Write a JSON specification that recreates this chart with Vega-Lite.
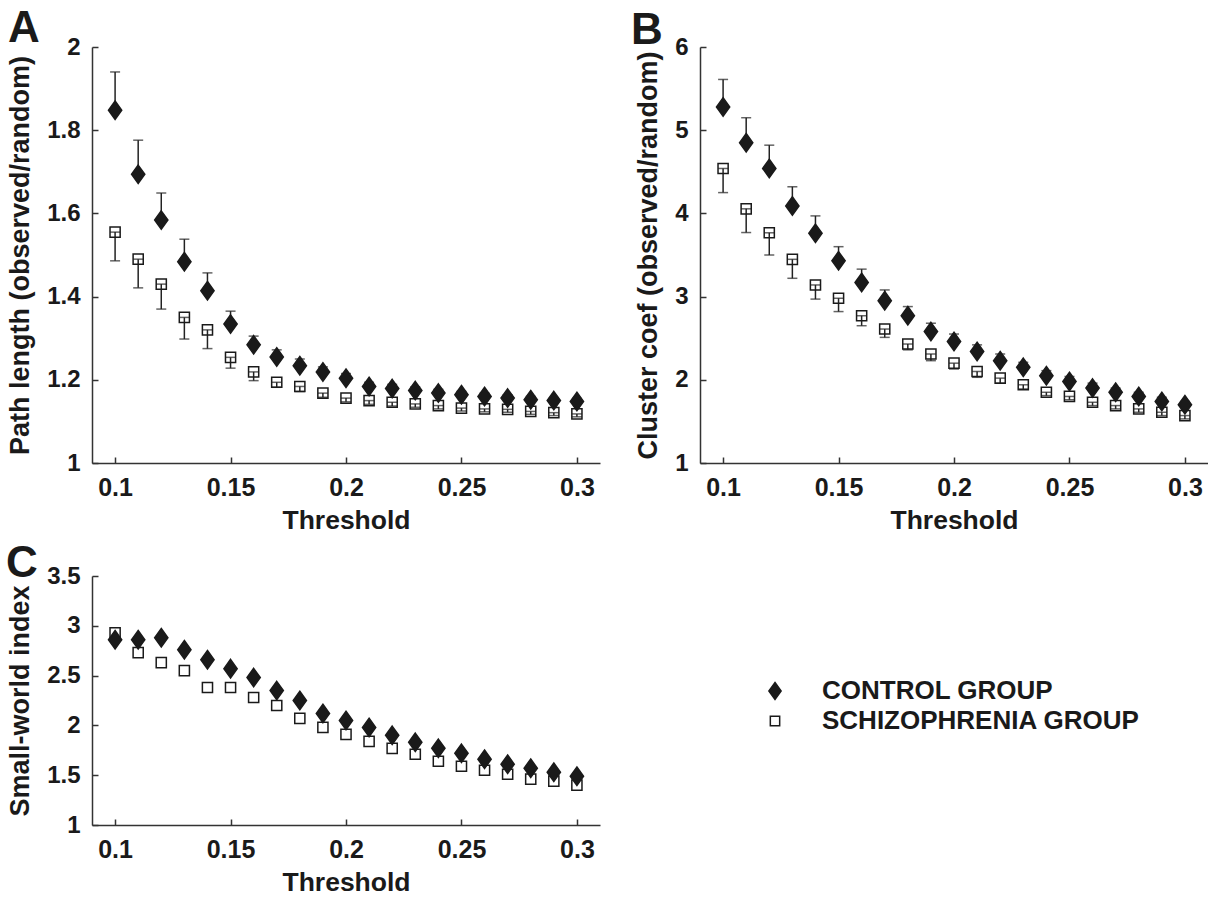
{
  "$schema": "https://vega.github.io/schema/vega-lite/v6.json",
  "autosize": {"type": "pad"},
  "padding": {"left": 6, "top": 7, "right": 0, "bottom": 0},
  "background": "white",
  "config": {
    "view": {"stroke": null},
    "font": "Liberation Sans",
    "axis": {
      "grid": false,
      "labelFont": "Liberation Sans",
      "labelFontWeight": "bold",
      "labelFontSize": 24,
      "labelColor": "#1a1a1a",
      "titleFont": "Liberation Sans",
      "titleFontWeight": "bold",
      "titleColor": "#1a1a1a",
      "domainColor": "#333333",
      "domainWidth": 1.5,
      "tickColor": "#333333",
      "tickWidth": 1.5,
      "tickSize": -6
    },
    "axisY": {"titlePadding": 12, "titleFontSize": 27, "labelPadding": 18},
    "axisX": {"titlePadding": 7, "titleFontSize": 26.5, "labelPadding": 18, "labelFontSize": 25},
    "legend": {
      "labelFont": "Liberation Sans",
      "labelFontSize": 26,
      "labelFontWeight": "bold",
      "labelColor": "#1a1a1a",
      "labelLimit": 0,
      "symbolSize": 289,
      "symbolStrokeColor": "#1a1a1a",
      "symbolStrokeWidth": 1.5,
      "rowPadding": 4,
      "labelOffset": 34
    },
    "title": {"font": "Liberation Sans", "fontSize": 44, "fontWeight": "bold", "color": "#1a1a1a", "anchor": "start", "baseline": "alphabetic", "frame": "group"}
  },
  "datasets": {
    "path": [
      {"t": 0.10, "group": "SCHIZOPHRENIA GROUP", "mean": 1.555, "bar": 1.486},
      {"t": 0.11, "group": "SCHIZOPHRENIA GROUP", "mean": 1.490, "bar": 1.421},
      {"t": 0.12, "group": "SCHIZOPHRENIA GROUP", "mean": 1.430, "bar": 1.370},
      {"t": 0.13, "group": "SCHIZOPHRENIA GROUP", "mean": 1.350, "bar": 1.298},
      {"t": 0.14, "group": "SCHIZOPHRENIA GROUP", "mean": 1.320, "bar": 1.275},
      {"t": 0.15, "group": "SCHIZOPHRENIA GROUP", "mean": 1.254, "bar": 1.228},
      {"t": 0.16, "group": "SCHIZOPHRENIA GROUP", "mean": 1.219, "bar": 1.198},
      {"t": 0.17, "group": "SCHIZOPHRENIA GROUP", "mean": 1.194, "bar": 1.182},
      {"t": 0.18, "group": "SCHIZOPHRENIA GROUP", "mean": 1.184, "bar": 1.172},
      {"t": 0.19, "group": "SCHIZOPHRENIA GROUP", "mean": 1.168, "bar": 1.158},
      {"t": 0.20, "group": "SCHIZOPHRENIA GROUP", "mean": 1.156, "bar": 1.147},
      {"t": 0.21, "group": "SCHIZOPHRENIA GROUP", "mean": 1.150, "bar": 1.141},
      {"t": 0.22, "group": "SCHIZOPHRENIA GROUP", "mean": 1.146, "bar": 1.137},
      {"t": 0.23, "group": "SCHIZOPHRENIA GROUP", "mean": 1.142, "bar": 1.134},
      {"t": 0.24, "group": "SCHIZOPHRENIA GROUP", "mean": 1.138, "bar": 1.130},
      {"t": 0.25, "group": "SCHIZOPHRENIA GROUP", "mean": 1.132, "bar": 1.125},
      {"t": 0.26, "group": "SCHIZOPHRENIA GROUP", "mean": 1.130, "bar": 1.123},
      {"t": 0.27, "group": "SCHIZOPHRENIA GROUP", "mean": 1.129, "bar": 1.122},
      {"t": 0.28, "group": "SCHIZOPHRENIA GROUP", "mean": 1.124, "bar": 1.117},
      {"t": 0.29, "group": "SCHIZOPHRENIA GROUP", "mean": 1.121, "bar": 1.114},
      {"t": 0.30, "group": "SCHIZOPHRENIA GROUP", "mean": 1.118, "bar": 1.111},
      {"t": 0.10, "group": "CONTROL GROUP", "mean": 1.848, "bar": 1.940},
      {"t": 0.11, "group": "CONTROL GROUP", "mean": 1.694, "bar": 1.776},
      {"t": 0.12, "group": "CONTROL GROUP", "mean": 1.584, "bar": 1.649},
      {"t": 0.13, "group": "CONTROL GROUP", "mean": 1.484, "bar": 1.538},
      {"t": 0.14, "group": "CONTROL GROUP", "mean": 1.414, "bar": 1.457},
      {"t": 0.15, "group": "CONTROL GROUP", "mean": 1.334, "bar": 1.365},
      {"t": 0.16, "group": "CONTROL GROUP", "mean": 1.284, "bar": 1.305},
      {"t": 0.17, "group": "CONTROL GROUP", "mean": 1.255, "bar": 1.272},
      {"t": 0.18, "group": "CONTROL GROUP", "mean": 1.234, "bar": 1.250},
      {"t": 0.19, "group": "CONTROL GROUP", "mean": 1.219, "bar": 1.231},
      {"t": 0.20, "group": "CONTROL GROUP", "mean": 1.204, "bar": 1.215},
      {"t": 0.21, "group": "CONTROL GROUP", "mean": 1.184, "bar": 1.194},
      {"t": 0.22, "group": "CONTROL GROUP", "mean": 1.179, "bar": 1.189},
      {"t": 0.23, "group": "CONTROL GROUP", "mean": 1.174, "bar": 1.183},
      {"t": 0.24, "group": "CONTROL GROUP", "mean": 1.168, "bar": 1.177},
      {"t": 0.25, "group": "CONTROL GROUP", "mean": 1.164, "bar": 1.172},
      {"t": 0.26, "group": "CONTROL GROUP", "mean": 1.160, "bar": 1.168},
      {"t": 0.27, "group": "CONTROL GROUP", "mean": 1.156, "bar": 1.164},
      {"t": 0.28, "group": "CONTROL GROUP", "mean": 1.152, "bar": 1.160},
      {"t": 0.29, "group": "CONTROL GROUP", "mean": 1.150, "bar": 1.157},
      {"t": 0.30, "group": "CONTROL GROUP", "mean": 1.148, "bar": 1.155}
    ],
    "clust": [
      {"t": 0.10, "group": "SCHIZOPHRENIA GROUP", "mean": 4.54, "bar": 4.25},
      {"t": 0.11, "group": "SCHIZOPHRENIA GROUP", "mean": 4.055, "bar": 3.77},
      {"t": 0.12, "group": "SCHIZOPHRENIA GROUP", "mean": 3.767, "bar": 3.50},
      {"t": 0.13, "group": "SCHIZOPHRENIA GROUP", "mean": 3.448, "bar": 3.22},
      {"t": 0.14, "group": "SCHIZOPHRENIA GROUP", "mean": 3.14, "bar": 2.97},
      {"t": 0.15, "group": "SCHIZOPHRENIA GROUP", "mean": 2.98, "bar": 2.82},
      {"t": 0.16, "group": "SCHIZOPHRENIA GROUP", "mean": 2.77, "bar": 2.65},
      {"t": 0.17, "group": "SCHIZOPHRENIA GROUP", "mean": 2.61, "bar": 2.51},
      {"t": 0.18, "group": "SCHIZOPHRENIA GROUP", "mean": 2.43, "bar": 2.36},
      {"t": 0.19, "group": "SCHIZOPHRENIA GROUP", "mean": 2.31, "bar": 2.23},
      {"t": 0.20, "group": "SCHIZOPHRENIA GROUP", "mean": 2.20, "bar": 2.13},
      {"t": 0.21, "group": "SCHIZOPHRENIA GROUP", "mean": 2.10, "bar": 2.03},
      {"t": 0.22, "group": "SCHIZOPHRENIA GROUP", "mean": 2.02, "bar": 1.96},
      {"t": 0.23, "group": "SCHIZOPHRENIA GROUP", "mean": 1.94, "bar": 1.89},
      {"t": 0.24, "group": "SCHIZOPHRENIA GROUP", "mean": 1.85, "bar": 1.81},
      {"t": 0.25, "group": "SCHIZOPHRENIA GROUP", "mean": 1.80, "bar": 1.76},
      {"t": 0.26, "group": "SCHIZOPHRENIA GROUP", "mean": 1.73, "bar": 1.69},
      {"t": 0.27, "group": "SCHIZOPHRENIA GROUP", "mean": 1.69, "bar": 1.65},
      {"t": 0.28, "group": "SCHIZOPHRENIA GROUP", "mean": 1.65, "bar": 1.61},
      {"t": 0.29, "group": "SCHIZOPHRENIA GROUP", "mean": 1.61, "bar": 1.57},
      {"t": 0.30, "group": "SCHIZOPHRENIA GROUP", "mean": 1.57, "bar": 1.53},
      {"t": 0.10, "group": "CONTROL GROUP", "mean": 5.28, "bar": 5.61},
      {"t": 0.11, "group": "CONTROL GROUP", "mean": 4.85, "bar": 5.15},
      {"t": 0.12, "group": "CONTROL GROUP", "mean": 4.54, "bar": 4.82},
      {"t": 0.13, "group": "CONTROL GROUP", "mean": 4.09, "bar": 4.32},
      {"t": 0.14, "group": "CONTROL GROUP", "mean": 3.76, "bar": 3.97},
      {"t": 0.15, "group": "CONTROL GROUP", "mean": 3.43, "bar": 3.60},
      {"t": 0.16, "group": "CONTROL GROUP", "mean": 3.17, "bar": 3.33},
      {"t": 0.17, "group": "CONTROL GROUP", "mean": 2.95, "bar": 3.08},
      {"t": 0.18, "group": "CONTROL GROUP", "mean": 2.77, "bar": 2.88},
      {"t": 0.19, "group": "CONTROL GROUP", "mean": 2.58, "bar": 2.68},
      {"t": 0.20, "group": "CONTROL GROUP", "mean": 2.46, "bar": 2.55},
      {"t": 0.21, "group": "CONTROL GROUP", "mean": 2.34, "bar": 2.42},
      {"t": 0.22, "group": "CONTROL GROUP", "mean": 2.23, "bar": 2.31},
      {"t": 0.23, "group": "CONTROL GROUP", "mean": 2.15, "bar": 2.21},
      {"t": 0.24, "group": "CONTROL GROUP", "mean": 2.05, "bar": 2.11},
      {"t": 0.25, "group": "CONTROL GROUP", "mean": 1.98, "bar": 2.04},
      {"t": 0.26, "group": "CONTROL GROUP", "mean": 1.90, "bar": 1.96},
      {"t": 0.27, "group": "CONTROL GROUP", "mean": 1.85, "bar": 1.90},
      {"t": 0.28, "group": "CONTROL GROUP", "mean": 1.80, "bar": 1.85},
      {"t": 0.29, "group": "CONTROL GROUP", "mean": 1.74, "bar": 1.79},
      {"t": 0.30, "group": "CONTROL GROUP", "mean": 1.70, "bar": 1.74}
    ],
    "sw": [
      {"t": 0.10, "group": "SCHIZOPHRENIA GROUP", "mean": 2.93},
      {"t": 0.11, "group": "SCHIZOPHRENIA GROUP", "mean": 2.73},
      {"t": 0.12, "group": "SCHIZOPHRENIA GROUP", "mean": 2.63},
      {"t": 0.13, "group": "SCHIZOPHRENIA GROUP", "mean": 2.55},
      {"t": 0.14, "group": "SCHIZOPHRENIA GROUP", "mean": 2.38},
      {"t": 0.15, "group": "SCHIZOPHRENIA GROUP", "mean": 2.38},
      {"t": 0.16, "group": "SCHIZOPHRENIA GROUP", "mean": 2.28},
      {"t": 0.17, "group": "SCHIZOPHRENIA GROUP", "mean": 2.20},
      {"t": 0.18, "group": "SCHIZOPHRENIA GROUP", "mean": 2.07},
      {"t": 0.19, "group": "SCHIZOPHRENIA GROUP", "mean": 1.98},
      {"t": 0.20, "group": "SCHIZOPHRENIA GROUP", "mean": 1.91},
      {"t": 0.21, "group": "SCHIZOPHRENIA GROUP", "mean": 1.84},
      {"t": 0.22, "group": "SCHIZOPHRENIA GROUP", "mean": 1.77},
      {"t": 0.23, "group": "SCHIZOPHRENIA GROUP", "mean": 1.71},
      {"t": 0.24, "group": "SCHIZOPHRENIA GROUP", "mean": 1.64},
      {"t": 0.25, "group": "SCHIZOPHRENIA GROUP", "mean": 1.59},
      {"t": 0.26, "group": "SCHIZOPHRENIA GROUP", "mean": 1.55},
      {"t": 0.27, "group": "SCHIZOPHRENIA GROUP", "mean": 1.51},
      {"t": 0.28, "group": "SCHIZOPHRENIA GROUP", "mean": 1.46},
      {"t": 0.29, "group": "SCHIZOPHRENIA GROUP", "mean": 1.44},
      {"t": 0.30, "group": "SCHIZOPHRENIA GROUP", "mean": 1.40},
      {"t": 0.10, "group": "CONTROL GROUP", "mean": 2.86},
      {"t": 0.11, "group": "CONTROL GROUP", "mean": 2.86},
      {"t": 0.12, "group": "CONTROL GROUP", "mean": 2.88},
      {"t": 0.13, "group": "CONTROL GROUP", "mean": 2.76},
      {"t": 0.14, "group": "CONTROL GROUP", "mean": 2.66},
      {"t": 0.15, "group": "CONTROL GROUP", "mean": 2.57},
      {"t": 0.16, "group": "CONTROL GROUP", "mean": 2.48},
      {"t": 0.17, "group": "CONTROL GROUP", "mean": 2.35},
      {"t": 0.18, "group": "CONTROL GROUP", "mean": 2.25},
      {"t": 0.19, "group": "CONTROL GROUP", "mean": 2.12},
      {"t": 0.20, "group": "CONTROL GROUP", "mean": 2.05},
      {"t": 0.21, "group": "CONTROL GROUP", "mean": 1.98},
      {"t": 0.22, "group": "CONTROL GROUP", "mean": 1.90},
      {"t": 0.23, "group": "CONTROL GROUP", "mean": 1.83},
      {"t": 0.24, "group": "CONTROL GROUP", "mean": 1.77},
      {"t": 0.25, "group": "CONTROL GROUP", "mean": 1.72},
      {"t": 0.26, "group": "CONTROL GROUP", "mean": 1.66},
      {"t": 0.27, "group": "CONTROL GROUP", "mean": 1.61},
      {"t": 0.28, "group": "CONTROL GROUP", "mean": 1.57},
      {"t": 0.29, "group": "CONTROL GROUP", "mean": 1.53},
      {"t": 0.30, "group": "CONTROL GROUP", "mean": 1.49}
    ]
  },
  "columns": 2,
  "bounds": "flush",
  "spacing": {"row": 113, "column": 100},
  "resolve": {
    "scale": {"shape": "independent", "fill": "independent", "stroke": "independent"},
    "legend": {"shape": "independent", "fill": "independent", "stroke": "independent"}
  },
  "concat": [
    {
      "width": 508,
      "height": 416,
      "title": {"text": "A", "dx": -84, "dy": 20},
      "data": {"name": "path"},
      "layer": [
        {
          "mark": {"type": "rule", "color": "#222222", "strokeWidth": 1.5},
          "encoding": {
            "x": {"field": "t", "type": "quantitative", "title": "Threshold", "scale": {"domain": [0.09, 0.31], "nice": false, "zero": false}, "axis": {"values": [0.1, 0.15, 0.2, 0.25, 0.3], "format": "~g"}},
            "y": {"field": "mean", "type": "quantitative", "title": "Path length (observed/random)", "scale": {"domain": [1, 2], "nice": false, "zero": false}, "axis": {"values": [1, 1.2, 1.4, 1.6, 1.8, 2], "format": "~g"}},
            "y2": {"field": "bar"}
          }
        },
        {
          "mark": {"type": "tick", "orient": "horizontal", "size": 10, "thickness": 1.5, "color": "#222222"},
          "encoding": {
            "x": {"field": "t", "type": "quantitative", "title": "Threshold"},
            "y": {"field": "bar", "type": "quantitative", "title": "Path length (observed/random)"}
          }
        },
        {
          "mark": {"type": "tick", "orient": "horizontal", "size": 10, "thickness": 1.5, "color": "#222222"},
          "encoding": {
            "x": {"field": "t", "type": "quantitative", "title": "Threshold"},
            "y": {"field": "mean", "type": "quantitative", "title": "Path length (observed/random)"}
          }
        },
        {
          "mark": {"type": "point", "filled": true, "size": 340, "stroke": "#1a1a1a", "strokeWidth": 1.5, "opacity": 1},
          "encoding": {
            "x": {"field": "t", "type": "quantitative", "title": "Threshold"},
            "y": {"field": "mean", "type": "quantitative", "title": "Path length (observed/random)"},
            "shape": {"field": "group", "type": "nominal", "scale": {"domain": ["CONTROL GROUP", "SCHIZOPHRENIA GROUP"], "range": ["M0,-1L0.72,0L0,1L-0.72,0Z", "M-0.55,-0.55L0.55,-0.55L0.55,0.55L-0.55,0.55Z"]}, "legend": null},
            "fill": {"field": "group", "type": "nominal", "scale": {"domain": ["CONTROL GROUP", "SCHIZOPHRENIA GROUP"], "range": ["#1a1a1a", "transparent"]}, "legend": null}
          }
        }
      ]
    },
    {
      "width": 508,
      "height": 416,
      "title": {"text": "B", "dx": -69, "dy": 22},
      "data": {"name": "clust"},
      "layer": [
        {
          "mark": {"type": "rule", "color": "#222222", "strokeWidth": 1.5},
          "encoding": {
            "x": {"field": "t", "type": "quantitative", "title": "Threshold", "scale": {"domain": [0.09, 0.31], "nice": false, "zero": false}, "axis": {"values": [0.1, 0.15, 0.2, 0.25, 0.3], "format": "~g"}},
            "y": {"field": "mean", "type": "quantitative", "title": "Cluster coef (observed/random)", "scale": {"domain": [1, 6], "nice": false, "zero": false}, "axis": {"values": [1, 2, 3, 4, 5, 6], "format": "~g"}},
            "y2": {"field": "bar"}
          }
        },
        {
          "mark": {"type": "tick", "orient": "horizontal", "size": 10, "thickness": 1.5, "color": "#222222"},
          "encoding": {
            "x": {"field": "t", "type": "quantitative", "title": "Threshold"},
            "y": {"field": "bar", "type": "quantitative", "title": "Cluster coef (observed/random)"}
          }
        },
        {
          "mark": {"type": "tick", "orient": "horizontal", "size": 10, "thickness": 1.5, "color": "#222222"},
          "encoding": {
            "x": {"field": "t", "type": "quantitative", "title": "Threshold"},
            "y": {"field": "mean", "type": "quantitative", "title": "Cluster coef (observed/random)"}
          }
        },
        {
          "mark": {"type": "point", "filled": true, "size": 340, "stroke": "#1a1a1a", "strokeWidth": 1.5, "opacity": 1},
          "encoding": {
            "x": {"field": "t", "type": "quantitative", "title": "Threshold"},
            "y": {"field": "mean", "type": "quantitative", "title": "Cluster coef (observed/random)"},
            "shape": {"field": "group", "type": "nominal", "scale": {"domain": ["CONTROL GROUP", "SCHIZOPHRENIA GROUP"], "range": ["M0,-1L0.72,0L0,1L-0.72,0Z", "M-0.55,-0.55L0.55,-0.55L0.55,0.55L-0.55,0.55Z"]}, "legend": null},
            "fill": {"field": "group", "type": "nominal", "scale": {"domain": ["CONTROL GROUP", "SCHIZOPHRENIA GROUP"], "range": ["#1a1a1a", "transparent"]}, "legend": null}
          }
        }
      ]
    },
    {
      "width": 508,
      "height": 249,
      "title": {"text": "C", "dx": -86, "dy": 26},
      "data": {"name": "sw"},
      "mark": {"type": "point", "filled": true, "size": 340, "strokeWidth": 1.5, "opacity": 1},
      "encoding": {
        "x": {"field": "t", "type": "quantitative", "title": "Threshold", "scale": {"domain": [0.09, 0.31], "nice": false, "zero": false}, "axis": {"values": [0.1, 0.15, 0.2, 0.25, 0.3], "format": "~g"}},
        "y": {"field": "mean", "type": "quantitative", "title": "Small-world index", "scale": {"domain": [1, 3.5], "nice": false, "zero": false}, "axis": {"values": [1, 1.5, 2, 2.5, 3, 3.5], "format": "~g"}},
        "shape": {"field": "group", "type": "nominal", "scale": {"domain": ["CONTROL GROUP", "SCHIZOPHRENIA GROUP"], "range": ["M0,-1L0.72,0L0,1L-0.72,0Z", "M-0.55,-0.55L0.55,-0.55L0.55,0.55L-0.55,0.55Z"]}, "legend": {"orient": "none", "legendX": 670, "legendY": 102, "title": null}},
        "fill": {"field": "group", "type": "nominal", "scale": {"domain": ["CONTROL GROUP", "SCHIZOPHRENIA GROUP"], "range": ["#1a1a1a", "transparent"]}, "legend": {"orient": "none", "legendX": 670, "legendY": 102, "title": null}},
        "stroke": {"field": "group", "type": "nominal", "scale": {"domain": ["CONTROL GROUP", "SCHIZOPHRENIA GROUP"], "range": ["#1a1a1a", "#1a1a1a"]}, "legend": {"orient": "none", "legendX": 670, "legendY": 102, "title": null}}
      }
    }
  ]
}
